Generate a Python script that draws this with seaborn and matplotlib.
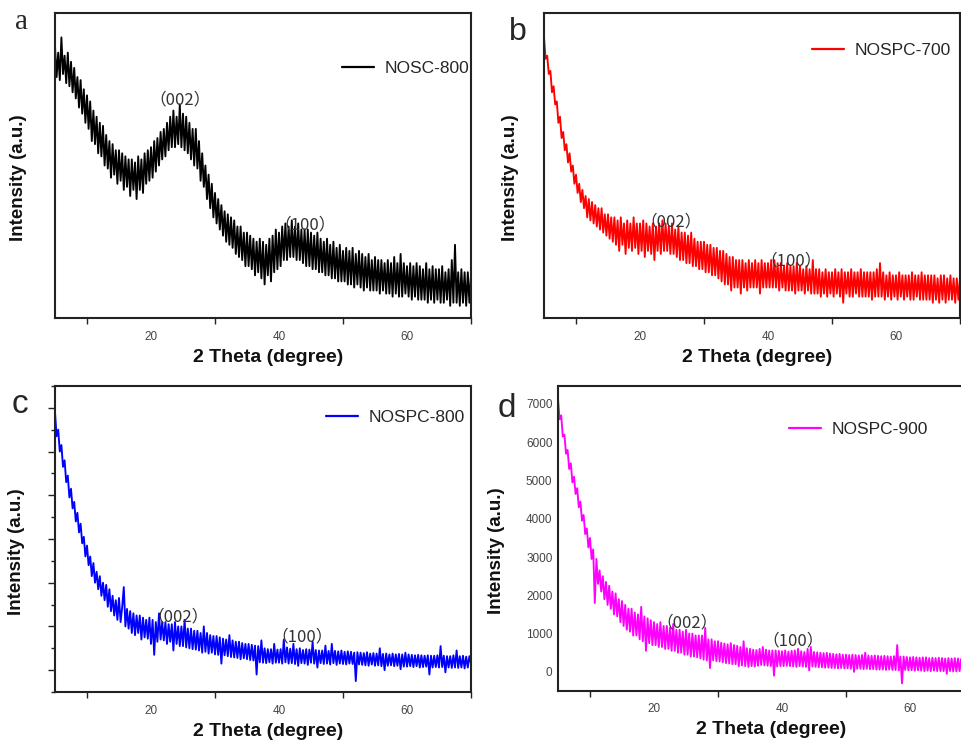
import numpy as np
import pandas as pd
import matplotlib
matplotlib.use("Agg")
import matplotlib.pyplot as plt
import seaborn as sns
from matplotlib.ticker import MultipleLocator, NullFormatter, NullLocator

# 2 theta sampling (degrees), one reading every 0.25 degree from 5 to 70
two_theta = np.arange(5.0, 70.001, 0.25)

# NOSC-800 (arbitrary units)
nosc_800 = [
    89, 79, 87, 78, 92, 80, 86, 77, 87, 76, 84, 74, 82, 72, 79, 69, 78, 67, 75, 64,
    73, 62, 71, 58, 68, 57, 66, 54, 64, 53, 63, 50, 60, 49, 58, 46, 57, 47, 55, 44,
    55, 45, 54, 42, 53, 43, 52, 40, 52, 42, 51, 39, 53, 42, 52, 41, 54, 44, 55, 45,
    56, 46, 58, 48, 59, 50, 61, 52, 62, 53, 64, 55, 66, 56, 68, 56, 66, 57, 70, 56,
    67, 55, 66, 54, 64, 52, 62, 50, 62, 49, 58, 45, 54, 43, 50, 39, 47, 36, 44, 33,
    41, 31, 39, 29, 37, 27, 35, 25, 34, 24, 33, 23, 32, 21, 30, 20, 30, 19, 28, 17,
    28, 17, 27, 16, 26, 14, 25, 15, 26, 13, 25, 11, 24, 14, 26, 12, 27, 15, 29, 16,
    28, 17, 30, 19, 31, 19, 30, 20, 32, 20, 30, 19, 31, 19, 29, 18, 29, 17, 29, 17,
    28, 16, 27, 16, 28, 15, 26, 15, 25, 14, 26, 14, 24, 13, 25, 13, 23, 12, 24, 12,
    22, 12, 23, 11, 22, 11, 23, 10, 21, 11, 22, 10, 21, 9, 20, 10, 21, 9, 19, 9,
    20, 9, 19, 8, 19, 9, 18, 8, 19, 8, 18, 7, 20, 8, 18, 7, 21, 7, 18, 8,
    17, 7, 18, 6, 17, 7, 18, 6, 17, 6, 16, 6, 18, 5, 16, 6, 17, 5, 16, 6,
    16, 5, 17, 5, 15, 6, 16, 4, 19, 5, 24, 5, 15, 4, 16, 5, 15, 4, 15, 5,
    14]

# NOSPC-700 (arbitrary units, panel b)
nospc_700 = [
    92, 85, 86, 80, 81, 74, 76, 70, 71, 64, 66, 59, 61, 55, 57, 51, 54, 48, 50, 44,
    47, 41, 44, 38, 42, 36, 40, 33, 39, 32, 38, 31, 37, 30, 36, 29, 36, 28, 34, 27,
    34, 26, 33, 25, 33, 24, 32, 22, 33, 24, 31, 21, 32, 23, 31, 22, 33, 23, 31, 21,
    31, 22, 32, 20, 31, 22, 30, 21, 31, 19, 30, 22, 31, 21, 32, 22, 31, 22, 30, 21,
    31, 21, 29, 20, 30, 19, 28, 19, 28, 18, 27, 18, 28, 17, 26, 17, 25, 16, 25, 16,
    25, 15, 24, 15, 24, 14, 23, 14, 23, 13, 22, 12, 22, 11, 21, 11, 20, 9, 20, 10,
    19, 10, 19, 8, 19, 10, 18, 9, 19, 10, 18, 10, 19, 10, 18, 8, 19, 10, 18, 10,
    18, 10, 19, 10, 19, 10, 18, 9, 18, 10, 17, 9, 18, 9, 17, 9, 17, 8, 18, 9,
    17, 9, 16, 8, 17, 9, 16, 8, 19, 8, 16, 8, 16, 7, 15, 8, 16, 7, 15, 8,
    15, 7, 16, 8, 15, 7, 16, 5, 15, 8, 15, 7, 16, 7, 15, 8, 15, 7, 16, 7,
    15, 7, 15, 7, 15, 6, 15, 7, 16, 7, 18, 7, 15, 6, 14, 7, 15, 6, 14, 7,
    14, 6, 15, 7, 14, 6, 14, 7, 14, 6, 15, 6, 14, 7, 14, 6, 15, 6, 14, 6,
    14, 6, 14, 5, 14, 6, 13, 5, 14, 6, 14, 5, 13, 6, 14, 6, 13, 5, 13, 6,
    13]

# NOSPC-800 (counts, panel c)
nospc_800 = [
    5900, 5350, 5500, 5000, 5150, 4650, 4800, 4300, 4450, 3950, 4150, 3700, 3850, 3400, 3600, 3150, 3350, 2900, 3050, 2600,
    2850, 2400, 2600, 2150, 2450, 2000, 2250, 1850, 2150, 1700, 2000, 1600, 1950, 1450, 1850, 1350, 1700, 1250, 1600, 1150,
    1650, 1100, 1450, 1900, 1000, 1400, 950, 1350, 850, 1300, 800, 1250, 850, 1250, 700, 1200, 750, 1150, 720, 1200,
    600, 1150, 350, 1100, 650, 1300, 700, 1100, 680, 1100, 600, 1050, 650, 1050, 450, 1100, 600, 1000, 550, 1000,
    550, 1150, 520, 950, 500, 950, 480, 900, 470, 900, 450, 850, 400, 1000, 420, 850, 380, 800, 400, 780,
    360, 780, 350, 750, 150, 720, 340, 700, 320, 800, 300, 680, 290, 650, 280, 650, 250, 620, 270, 600,
    250, 600, 230, 580, 220, 560, -100, 550, 180, 680, 170, 500, 160, 480, 180, 480, 150, 600, 170, 470,
    170, 480, 150, 700, 180, 520, 150, 490, 160, 600, 140, 480, 100, 500, 160, 460, 150, 480, 120, 470,
    170, 650, 150, 460, 60, 450, 160, 450, 140, 560, 150, 440, 130, 600, 160, 440, 120, 430, 150, 450,
    140, 420, 130, 430, 150, 420, 140, 400, -250, 410, 130, 400, 120, 390, 110, 410, 100, 380, 130, 390,
    100, 380, 110, 500, 90, 370, 0, 380, 100, 360, 110, 380, 90, 360, 100, 370, 20, 360, 80, 400,
    80, 360, 90, 350, 70, 340, 90, 350, 60, 340, 70, 330, 80, 340, -100, 330, 60, 330, 70, 340,
    60, 550, 70, 330, -50, 320, 60, 320, 50, 340, 60, 450, 50, 320, 60, 330, 40, 310, 60, 320,
    150]

# NOSPC-900 (counts, panel d)
nospc_900 = [
    7150, 6600, 6700, 6150, 6200, 5700, 5800, 5300, 5450, 4950, 5100, 4650, 4800, 4300, 4450, 3950, 4100, 3600, 3750, 3250,
    3500, 2950, 3200, 1800, 2950, 2300, 2650, 2100, 2500, 1900, 2350, 1750, 2250, 1650, 2100, 1500, 2050, 1450, 1900, 1300,
    1850, 1200, 1750, 1100, 1650, 1050, 1650, 950, 1550, 950, 1500, 850, 1700, 800, 1450, 550, 1400, 750, 1350, 700,
    1300, 700, 1250, 650, 1300, 650, 1200, 600, 1200, 600, 1150, 550, 1250, 550, 1100, 500, 1100, 500, 1050, 450,
    1100, 450, 1000, 400, 1000, 400, 950, 380, 950, 350, 950, 320, 1150, 300, 850, 100, 850, 300, 800, 280,
    800, 270, 760, 250, 740, 230, 720, 220, 750, 200, 700, 200, 680, 150, 650, 170, 800, 150, 620, 130,
    600, 150, 580, 140, 570, 160, 600, 180, 650, 170, 580, 160, 560, 150, 560, -100, 560, 140, 550, 150,
    540, 150, 560, 160, 530, 150, 550, 140, 560, 130, 600, 150, 540, 140, 520, 130, 600, 40, 650, 140,
    520, 130, 510, 120, 500, 120, 490, 110, 500, 110, 480, 100, 470, 100, 460, 90, 470, 100, 450, 90,
    450, 90, 440, 80, 450, 0, 440, 80, 430, 80, 440, 70, 500, 80, 430, 70, 420, 70, 430, 60,
    420, 60, 410, 60, 420, 50, 410, 60, 400, 50, 410, 50, 700, 40, 400, -300, 400, 50, 390, 40,
    380, 40, 390, 30, 380, 40, 370, 30, 380, 20, 380, 30, 360, 20, 370, 30, 360, 20, 370, 20,
    360, 20, 350, -50, 360, 20, 350, 10, 360, 10, 350, 20, 340, 10, 350, 10, 340, 0, 340, 10,
    300]

samples = ["NOSC-800", "NOSPC-700", "NOSPC-800", "NOSPC-900"]
colors = ["black", "#ff0000", "#0000ff", "#ff00ff"]
panel_letters = ["a", "b", "c", "d"]

sns.set_style("ticks")
plt.rcParams["font.family"] = ["Liberation Sans", "DejaVu Sans"]

W, H = 961, 744
fig = plt.figure(figsize=(W / 100, H / 100), dpi=100)


def px_axes(left, top, right, bottom):
    return fig.add_axes([left / W, 1 - bottom / H, (right - left) / W, (bottom - top) / H])


ax_a = px_axes(55, 13, 471, 318)
ax_b = px_axes(544, 13, 960, 318)
ax_c = px_axes(55, 386, 471, 692)
ax_d = px_axes(558, 386, 974, 691)
axes = [ax_a, ax_b, ax_c, ax_d]

series = [nosc_800, nospc_700, nospc_800, nospc_900]
ylims = [(0, 100), (0, 100), (-500, 6500), (-500, 7470)]

# annotation positions (2theta, intensity) for (002) and (100)
peak_pos = [[(24.5, 71.5), (44.1, 30.5)],
            [(24.8, 31.5), (43.6, 18.7)],
            [(24.2, 1213), (43.6, 755)],
            [(25.2, 1280), (41.8, 810)]]
legend_anchor = [(0.995, 0.842), (0.978, 0.902), (0.985, 0.922), (0.89, 0.882)]
ylabel_x = [-0.067, -0.06, -0.072, -0.127]

for i, ax in enumerate(axes):
    df = pd.DataFrame({"two_theta": two_theta, "intensity": series[i]})
    sns.lineplot(data=df, x="two_theta", y="intensity", ax=ax, color=colors[i],
                 lw=1.35, estimator=None, label=samples[i])
    ax.set_xlim(5, 70)
    ax.set_ylim(*ylims[i])
    for sp in ax.spines.values():
        sp.set_visible(True)
        sp.set_linewidth(1.5)
        sp.set_color("#222222")

    ax.set_xticks([20, 40, 60])
    ax.xaxis.set_minor_locator(MultipleLocator(20, offset=10))
    ax.tick_params(axis="x", which="major", length=0, pad=9, labelsize=8.5, labelcolor="#444444")
    ax.tick_params(axis="x", which="minor", length=4, width=1, direction="out", color="#222222")

    if i == 2:
        ax.yaxis.set_major_locator(MultipleLocator(1000))
        ax.yaxis.set_minor_locator(MultipleLocator(500))
        ax.yaxis.set_major_formatter(NullFormatter())
        ax.tick_params(axis="y", which="major", length=5, width=1, color="#222222")
        ax.tick_params(axis="y", which="minor", length=3, width=1, color="#222222")
    elif i == 3:
        ax.set_yticks(range(0, 7001, 1000))
        ax.yaxis.set_minor_locator(NullLocator())
        ax.tick_params(axis="y", length=0, pad=4, labelsize=8.5, labelcolor="#444444")
    else:
        ax.set_yticks([])

    ax.set_xlabel("2 Theta (degree)", fontsize=14, fontweight="bold", color="#111111")
    ax.set_ylabel("Intensity (a.u.)", fontsize=13.5, fontweight="bold", color="#111111")
    ax.xaxis.set_label_coords(0.512, -0.1)
    ax.yaxis.set_label_coords(ylabel_x[i], 0.46)

    for (px, py), lab in zip(peak_pos[i], ["\uff08002\uff09", "\uff08100\uff09"]):
        ax.text(px, py, lab, ha="center", va="center", fontsize=12, color="#333333",
                family=["Noto Sans CJK SC", "DejaVu Sans"])

    leg = ax.legend(loc="upper right", bbox_to_anchor=legend_anchor[i], frameon=False,
                    fontsize=12.5, handlelength=1.85, handletextpad=0.6, borderpad=0,
                    borderaxespad=0)
    for line in leg.get_lines():
        line.set_linewidth(1.6)

# panel letters
fig.text(22 / W, 1 - 22 / H, "a", fontsize=21, family=["Liberation Serif"], ha="center", va="center")
fig.text(518 / W, 1 - 32 / H, "b", fontsize=23, ha="center", va="center")
fig.text(20 / W, 1 - 405 / H, "c", fontsize=24, ha="center", va="center")
fig.text(507 / W, 1 - 409 / H, "d", fontsize=24, ha="center", va="center")

fig.savefig("out.png", dpi=100)
